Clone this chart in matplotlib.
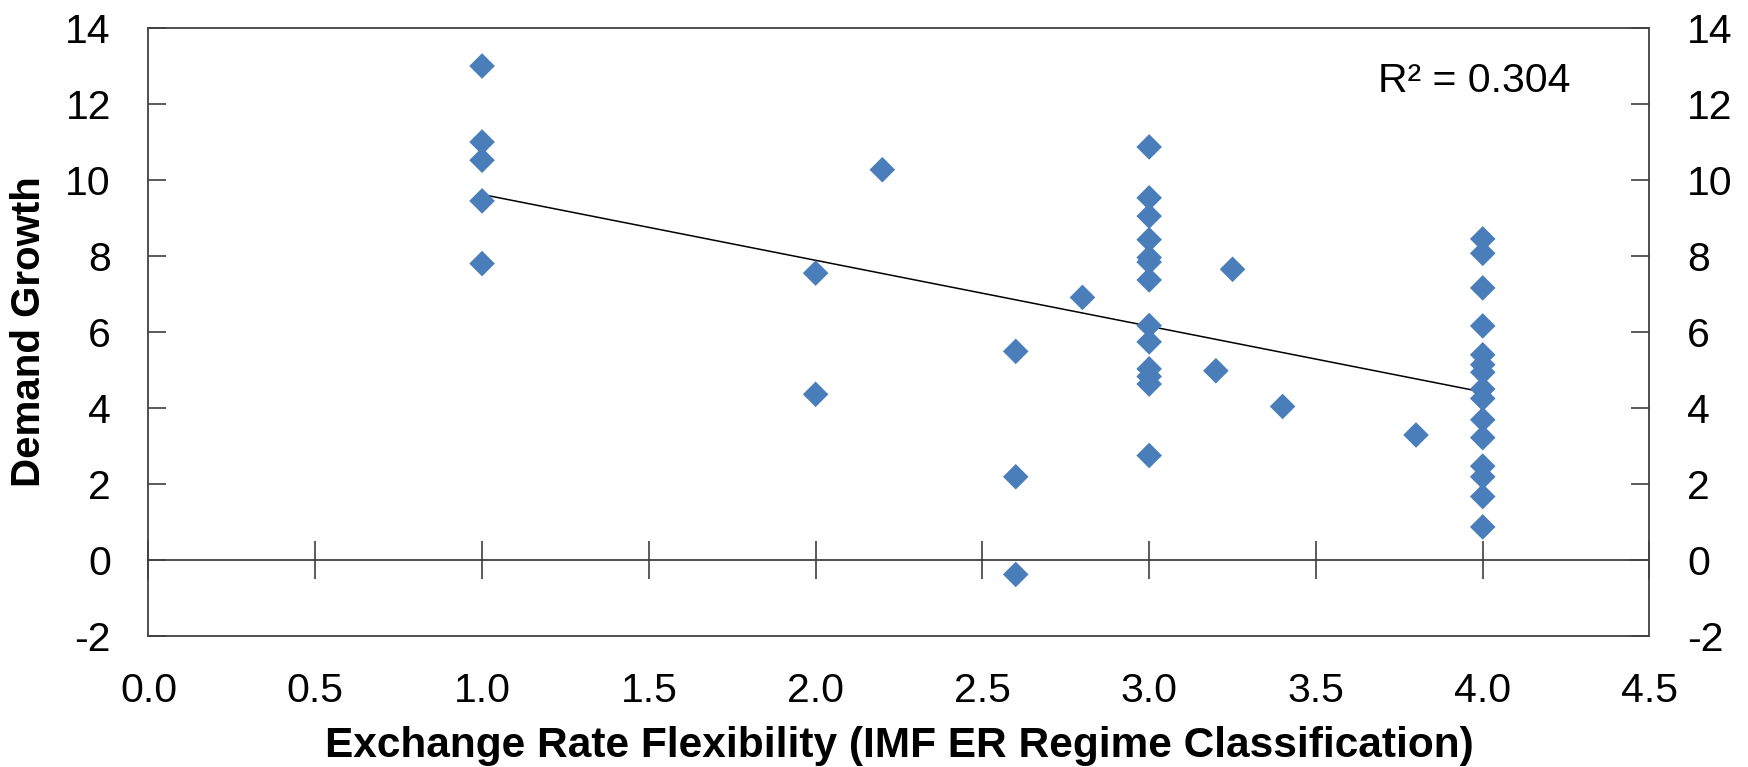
import numpy as np
import matplotlib.pyplot as plt

# Exchange rate flexibility (IMF classification) vs demand growth
flex = [1.0, 1.0, 1.0, 1.0, 1.0,
        2.0, 2.0, 2.2,
        2.6, 2.6, 2.6, 2.8,
        3.0, 3.0, 3.0, 3.0, 3.0, 3.0, 3.0, 3.0, 3.0, 3.0, 3.0, 3.0, 3.0,
        3.2, 3.25, 3.4, 3.8,
        4.0, 4.0, 4.0, 4.0, 4.0, 4.0, 4.0, 4.0, 4.0, 4.0, 4.0, 4.0, 4.0, 4.0, 4.0]
growth = [13.0, 11.0, 10.52, 9.45, 7.8,
          7.55, 4.36, 10.27,
          5.49, 2.19, -0.38, 6.91,
          10.87, 9.53, 9.05, 8.43, 7.96, 7.84, 7.37, 6.17, 5.74, 5.03, 4.83, 4.63, 2.75,
          4.98, 7.65, 4.04, 3.29,
          8.45, 8.07, 7.16, 6.16, 5.40, 5.14, 4.94, 4.50, 4.25, 3.69, 3.22, 2.47, 2.19, 1.67, 0.87]
r2_text = "R² = 0.304"
x_ticks = [0.0, 0.5, 1.0, 1.5, 2.0, 2.5, 3.0, 3.5, 4.0, 4.5]
y_ticks = [-2, 0, 2, 4, 6, 8, 10, 12, 14]

plt.rcParams['font.family'] = ['Liberation Sans', 'DejaVu Sans']
plt.rcParams['axes.unicode_minus'] = False

fig = plt.figure(figsize=(17.49, 7.67), dpi=100)
ax = fig.add_axes([148.5 / 1749, 1 - 636 / 767, (1649.5 - 148.5) / 1749, 608 / 767])

ax.scatter(flex, growth, marker='D', s=170, color='#4A7EBB', edgecolors='none', zorder=3)

# linear trend line
slope, icpt = np.polyfit(flex, growth, 1)
xs = np.array([min(flex), max(flex)])
ax.plot(xs, slope * xs + icpt, color='black', lw=1.1, zorder=2)

ax.set_xlim(0, 4.5)
ax.set_ylim(-2, 14)
ax.set_xticks(x_ticks)
ax.set_xticklabels([f"{v:.1f}" for v in x_ticks])
ax.set_yticks(y_ticks)

for s in ax.spines.values():
    s.set_color('#404040')
    s.set_linewidth(1.3)

ax.tick_params(axis='x', length=0, pad=26, labelsize=29.5)
ax.tick_params(axis='y', direction='in', length=13, width=1.2, color='#404040',
               right=True, labelright=True, pad=27, labelsize=29.5)

# zero line with crossing tick marks
zero_ax = ax.secondary_xaxis(2 / 16)
zero_ax.set_xticks(x_ticks)
zero_ax.tick_params(direction='inout', length=28, width=1.2, color='#404040', labelbottom=False)
zero_ax.spines['bottom'].set_color('#404040')
zero_ax.spines['bottom'].set_linewidth(1.3)

ax.set_xlabel("Exchange Rate Flexibility (IMF ER Regime Classification)", fontsize=30.5,
              fontweight='bold', va='baseline')
ax.xaxis.set_label_coords(0.5, (636 - 757) / 608)
ax.set_ylabel("Demand Growth", fontsize=29, fontweight='bold', va='center')
ax.yaxis.set_label_coords((29 - 148.5) / 1501, 0.5)

ax.text(3.976, 12.61, r2_text, fontsize=29.5, ha='center', va='center')

fig.savefig("out.png", dpi=100)
